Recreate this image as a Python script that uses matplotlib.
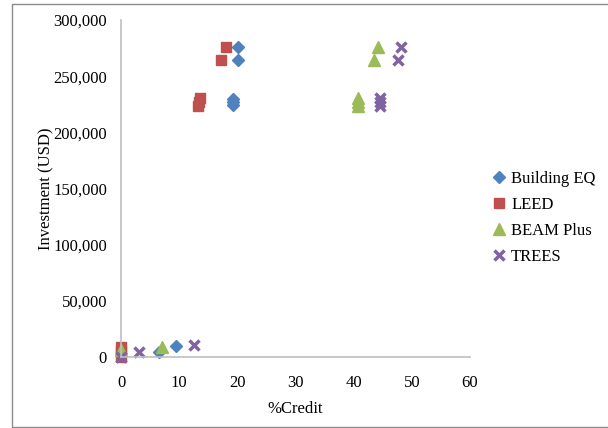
import matplotlib.pyplot as plt
from matplotlib.patches import Rectangle
from matplotlib.ticker import FuncFormatter

plt.rcParams['font.family'] = ['Liberation Serif', 'DejaVu Serif']

# data
beq_x = [20.2, 20.2, 19.2, 19.2, 19.2, 6.6, 9.4]
beq_y = [276000, 264000, 230000, 227000, 224000, 4700, 9800]

leed_x = [18.0, 17.2, 13.6, 13.4, 13.2, 0, 0, 0]
leed_y = [276000, 264000, 231000, 227000, 223000, 0, 5000, 9000]

beam_x = [44.1, 43.5, 40.8, 40.7, 40.7, 7.0, 0]
beam_y = [276000, 264000, 231000, 227000, 223000, 9000, 6000]

trees_x = [48.2, 47.6, 44.6, 44.5, 44.5, 3.1, 12.5, 0]
trees_y = [276000, 264000, 231000, 227000, 223000, 4700, 10500, 0]

fig = plt.figure(figsize=(6.08, 4.28), dpi=100)
ax = fig.add_axes([121/608, 1 - 357/428, 349/608, 337/428])

# chart border
fig.patches.append(Rectangle((12/608, 1/428), 1.0, 1 - 5/428, transform=fig.transFigure,
                             fill=False, edgecolor='#8c8c8c', linewidth=1.0))

ax.plot(beq_x, beq_y, 'D', color='#4F81BD', ms=6.5, mec='#4F81BD', label='Building EQ', clip_on=False)
ax.plot(leed_x, leed_y, 's', color='#C0504D', ms=7, label='LEED', clip_on=False)
ax.plot(beam_x, beam_y, '^', color='#9BBB59', ms=8, label='BEAM Plus', clip_on=False)
ax.plot(trees_x, trees_y, 'x', color='#8064A2', ms=7, mew=2.5, label='TREES', clip_on=False)

ax.set_xlim(0, 60)
ax.set_ylim(0, 300000)
ax.set_xticks(range(0, 61, 10))
ax.set_yticks(range(0, 300001, 50000))
ax.yaxis.set_major_formatter(FuncFormatter(lambda v, p: f'{int(v):,}'))
ax.tick_params(length=0, labelsize=12)
ax.tick_params(axis='y', pad=10)
ax.tick_params(axis='x', pad=13)

for s in ['top', 'right']:
    ax.spines[s].set_visible(False)
for s in ['left', 'bottom']:
    ax.spines[s].set_color('#bfbfbf')
    ax.spines[s].set_linewidth(1.2)

ax.set_xlabel('%Credit', fontsize=12, labelpad=7)
ax.set_ylabel('Investment (USD)', fontsize=12, labelpad=-1)

fig.legend(loc='upper left', bbox_to_anchor=(0.809, 0.601), frameon=False, fontsize=12,
           handlelength=0.8, handletextpad=0.35, labelspacing=0.61, borderpad=0,
           borderaxespad=0, handles=ax.get_legend_handles_labels()[0])

fig.savefig('out.png', dpi=100)
